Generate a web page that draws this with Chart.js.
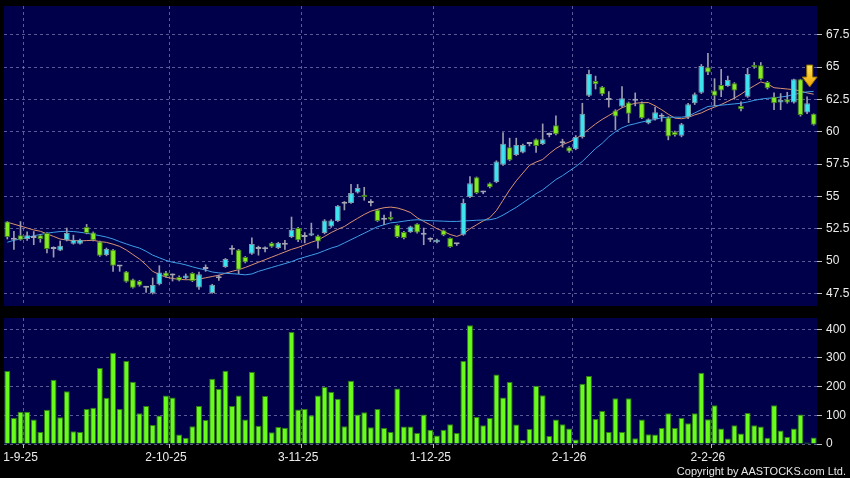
<!DOCTYPE html>
<html>
<head>
<meta charset="utf-8">
<script src="https://cdn.jsdelivr.net/npm/chart.js@4.4.1/dist/chart.umd.min.js"></script>
<style>
  body { margin: 0; background: #000; width: 850px; height: 478px; overflow: hidden; position: relative; }
  canvas { position: absolute; left: 0; }
  #copy { position: absolute; right: 4px; top: 465px; color: #e6e6e6; font: 11px "Liberation Sans", Arial, sans-serif; letter-spacing: 0; }
</style>
</head>
<body>
<canvas id="priceChart" width="850" height="310" style="top:0"></canvas>
<canvas id="volChart" width="850" height="168" style="top:310px"></canvas>
<div id="copy">Copyright by AASTOCKS.com Ltd.</div>
<script>
// daily candles, 28-8-25 .. 27-2-26
const opens = [53.05, 51.65, 52.0, 51.7, 51.78, 52.0, 52.16, 50.93, 50.82, 51.6, 51.34, 51.34, 52.63, 52.2, 51.5, 50.47, 50.87, 49.58, 49.18, 48.56,
  48.46, 47.94, 47.53, 48.2, 49.12, 48.87, 48.77, 48.66, 49.07, 47.95, 49.38, 47.53, 48.66, 49.54, 50.87, 50.87, 50.3, 50.57, 50.93, 50.9,
  51.4, 51.0, 51.26, 51.85, 52.55, 51.85, 51.98, 51.95, 52.16, 52.67, 53.09, 54.43, 54.48, 55.3, 55.13, 54.48, 53.96, 53.19, 53.4, 52.78,
  52.24, 52.24, 52.88, 52.03, 51.65, 51.45, 52.37, 51.78, 51.3, 52.03, 54.95, 56.48, 55.3, 56.02, 56.1, 57.44, 58.8, 58.2, 58.4, 59.04,
  59.42, 59.05, 59.75, 60.5, 59.11, 58.8, 58.65, 59.58, 62.77, 63.92, 63.48, 62.46, 61.63, 61.94, 62.25, 62.4, 62.2, 60.66, 60.97, 61.15,
  61.09, 60.0, 59.68, 61.12, 62.2, 63.02, 64.98, 63.18, 63.62, 63.54, 63.75, 61.99, 62.71, 65.16, 65.14, 63.85, 62.71, 62.25, 62.51, 62.25,
  64.06, 61.48, 61.38];
const highs = [53.05, 52.3, 53.05, 52.25, 52.28, 52.05, 52.2, 51.1, 51.55, 52.55, 52.0, 51.7, 52.83, 52.25, 51.55, 51.0, 50.9, 49.65, 49.2, 48.6,
  48.5, 48.04, 48.69, 49.64, 49.2, 49.0, 48.85, 49.0, 49.1, 49.15, 49.7, 48.2, 48.9, 50.2, 51.2, 50.9, 50.35, 51.8, 51.15, 51.1,
  51.45, 51.45, 51.6, 53.4, 52.6, 52.2, 52.93, 52.0, 53.2, 53.2, 54.3, 54.6, 55.92, 55.92, 55.7, 54.75, 54.0, 53.55, 53.8, 52.8,
  52.3, 52.7, 52.9, 52.55, 51.8, 51.7, 52.4, 51.8, 51.35, 54.79, 56.53, 56.5, 55.4, 56.05, 57.75, 59.93, 59.5, 59.5, 59.05, 59.1,
  59.45, 60.6, 59.9, 61.22, 59.42, 58.85, 59.7, 62.2, 64.77, 64.3, 63.5, 63.1, 61.7, 63.48, 62.3, 63.0, 62.3, 61.0, 61.9, 61.4,
  61.15, 60.05, 60.65, 62.2, 63.0, 65.2, 66.06, 64.1, 64.83, 64.3, 63.8, 62.3, 64.9, 65.35, 65.35, 63.9, 63.0, 62.95, 63.05, 64.06,
  64.06, 62.7, 61.38];
const lows = [51.7, 50.9, 51.6, 51.6, 51.26, 51.45, 50.62, 50.3, 50.8, 51.55, 51.3, 51.3, 52.1, 51.55, 50.35, 50.4, 49.2, 49.2, 48.35, 47.9,
  48.05, 47.57, 47.45, 48.15, 48.75, 48.45, 48.45, 48.6, 48.4, 47.8, 49.2, 47.5, 48.5, 49.5, 50.5, 49.02, 49.85, 50.5, 50.45, 50.7,
  51.05, 50.95, 50.9, 51.8, 51.5, 51.4, 51.95, 51.0, 52.1, 52.6, 53.05, 53.95, 54.45, 55.25, 54.7, 54.25, 53.05, 52.8, 53.15, 51.8,
  51.7, 52.2, 52.15, 51.26, 51.5, 51.4, 51.95, 51.05, 51.2, 51.98, 54.9, 55.2, 55.2, 55.65, 56.05, 57.4, 57.75, 58.15, 58.35, 58.9,
  58.4, 59.0, 59.6, 59.75, 58.8, 58.4, 58.6, 59.5, 62.7, 63.3, 62.8, 61.9, 60.14, 61.9, 60.7, 62.0, 61.0, 60.6, 60.9, 60.8,
  59.37, 59.65, 59.6, 61.0, 62.1, 62.95, 64.4, 62.0, 62.7, 63.5, 62.51, 61.6, 62.65, 64.9, 64.0, 63.3, 61.7, 61.7, 62.2, 62.2,
  61.2, 61.4, 60.5];
const closes = [51.86, 51.65, 51.65, 52.0, 51.78, 51.7, 50.93, 50.93, 51.18, 52.17, 51.65, 51.65, 52.16, 51.6, 50.41, 50.93, 49.64, 49.58, 48.4, 47.94,
  48.1, 47.94, 48.15, 49.12, 48.81, 48.87, 48.5, 48.87, 48.46, 48.98, 49.38, 48.17, 48.66, 50.16, 50.87, 49.33, 49.9, 51.32, 50.93, 50.9,
  51.1, 51.4, 51.26, 52.42, 51.6, 51.85, 52.15, 51.5, 53.13, 53.13, 54.27, 54.43, 55.25, 55.64, 54.95, 54.48, 53.09, 53.19, 53.2, 51.85,
  51.78, 52.67, 52.2, 52.03, 51.65, 51.65, 52.0, 51.08, 51.3, 54.48, 56.02, 55.25, 55.3, 55.7, 57.7, 59.06, 57.8, 58.98, 58.98, 59.04,
  58.9, 59.42, 59.75, 59.8, 59.11, 58.47, 59.58, 61.38, 64.47, 63.67, 62.9, 62.46, 61.17, 62.59, 61.38, 62.4, 61.04, 60.96, 61.5, 61.15,
  59.62, 59.75, 60.58, 62.13, 62.9, 65.08, 64.57, 62.77, 63.18, 64.0, 63.18, 61.74, 64.47, 64.98, 64.06, 63.36, 62.2, 62.46, 62.25, 64.06,
  61.3, 62.2, 60.53];
const ma10 = [53.0, 52.85, 52.7, 52.55, 52.4, 52.3, 52.1, 51.9, 51.7, 51.62, 51.58, 51.55, 51.58, 51.6, 51.5, 51.44, 51.3, 51.13, 50.85, 50.5,
  50.15, 49.7, 49.2, 48.95, 48.75, 48.65, 48.58, 48.55, 48.56, 48.6, 48.7, 48.8, 48.9, 49.05, 49.2, 49.33, 49.5, 49.7, 49.9, 50.1,
  50.3, 50.5, 50.7, 50.9, 51.05, 51.25, 51.45, 51.62, 51.9, 52.2, 52.45, 52.67, 53.0, 53.3, 53.6, 53.85, 54.0, 54.12, 54.17, 54.1,
  53.95, 53.75, 53.35, 53.06, 52.8, 52.5, 52.29, 52.05, 51.9, 52.1, 52.5, 52.8, 53.1, 53.35, 53.9, 54.7, 55.5, 56.2, 56.8, 57.4,
  57.65, 57.85, 58.3, 58.7, 59.0, 59.2, 59.45, 59.8, 60.2, 60.6, 60.95, 61.25, 61.55, 61.85, 62.05, 62.2, 62.25, 62.25, 62.0, 61.7,
  61.35, 61.05, 61.0, 61.1, 61.3, 61.45, 61.7, 61.9, 62.1, 62.35, 62.6, 62.9, 63.25, 63.55, 63.85, 63.7, 63.4, 63.35, 63.3, 63.25,
  63.15, 63.0, 62.9];
const ma20 = [51.45, 51.6, 51.7, 51.82, 51.95, 52.05, 52.15, 52.22, 52.28, 52.3, 52.28, 52.22, 52.15, 52.05, 51.96, 51.85, 51.7, 51.5, 51.32, 51.15,
  51.0, 50.75, 50.45, 50.25, 50.05, 49.9, 49.82, 49.7, 49.55, 49.42, 49.3, 49.15, 49.08, 49.05, 49.02, 48.98, 48.93, 49.0, 49.2, 49.35,
  49.5, 49.65, 49.8, 49.95, 50.15, 50.3, 50.45, 50.6, 50.8, 51.0, 51.15, 51.4, 51.65, 51.9, 52.15, 52.4, 52.65, 52.8, 52.95, 53.0,
  53.08, 53.15, 53.19, 53.15, 53.12, 53.1, 53.08, 53.06, 53.06, 53.1, 53.12, 53.15, 53.17, 53.19, 53.3, 53.55, 53.85, 54.15, 54.5, 54.85,
  55.2, 55.5, 55.9, 56.3, 56.6, 56.95, 57.3, 57.7, 58.2, 58.7, 59.1, 59.6, 60.0, 60.3, 60.5, 60.62, 60.75, 60.85, 60.95, 61.08,
  61.12, 61.12, 61.12, 61.2, 61.45, 61.7, 61.95, 62.0, 62.05, 62.1, 62.15, 62.2, 62.3, 62.42, 62.52, 62.58, 62.62, 62.68, 62.75, 62.88,
  62.98, 63.08, 63.12];
const volumes = [254, 91, 112, 112, 85, 42, 119, 224, 93, 184, 44, 42, 122, 126, 265, 161, 318, 122, 289, 217,
  107, 132, 66, 99, 169, 162, 33, 22, 62, 132, 84, 227, 192, 255, 132, 169, 85, 251, 64, 167,
  41, 59, 57, 390, 120, 122, 100, 169, 199, 181, 158, 62, 220, 103, 111, 58, 122, 56, 42, 193,
  61, 61, 38, 103, 50, 30, 50, 69, 38, 289, 414, 94, 65, 91, 242, 162, 216, 68, 14, 52,
  203, 170, 28, 85, 69, 54, 16, 210, 237, 87, 115, 42, 159, 42, 159, 20, 85, 34, 33, 56,
  107, 56, 91, 72, 107, 248, 86, 135, 54, 19, 65, 37, 108, 65, 61, 22, 135, 47, 24, 54,
  103, 5, 23];

const tickIndex = [2, 24, 44, 64, 85, 106];
const tickLabels = ['1-9-25', '2-10-25', '3-11-25', '1-12-25', '2-1-26', '2-2-26'];
const priceTicks = [47.5, 50, 52.5, 55, 57.5, 60, 62.5, 65, 67.5];
const volTicks = [0, 100, 200, 300, 400];

const labels = opens.map((_, i) => i);
const FONT = { family: '"Liberation Sans", Arial, sans-serif', size: 12 };
const GRID = 'rgba(150,150,205,0.6)';
const CYAN = '#3de3ef', GREEN = '#86ec22', DOJI = '#a4a4b4';

// dashed verticals sit on the right edge of the labelled day
const vGrid = ctx => tickIndex.includes(ctx.index - 1) ? GRID : 'transparent';
const vTick = ctx => tickIndex.includes(ctx.index - 1) ? '#bcbcbc' : 'transparent';

const areaBg = {
    id: 'areaBg',
    beforeDraw(chart) {
        const { ctx, chartArea: a } = chart;
        ctx.save();
        ctx.fillStyle = '#00004a';
        ctx.fillRect(a.left, a.top, a.width, a.height);
        ctx.restore();
    }
};

const arrow = {
    id: 'arrow',
    afterDatasetsDraw(chart) {
        const { ctx } = chart;
        const cx = chart.scales.x.getPixelForValue(opens.length - 1) - 4;
        const top = 65, mid = 77, tip = 87;
        const g = ctx.createLinearGradient(0, top, 0, tip);
        g.addColorStop(0, '#ffe95a');
        g.addColorStop(1, '#f0a100');
        ctx.save();
        ctx.beginPath();
        ctx.moveTo(cx - 3, top);
        ctx.lineTo(cx + 3, top);
        ctx.lineTo(cx + 3, mid);
        ctx.lineTo(cx + 7.5, mid);
        ctx.lineTo(cx, tip);
        ctx.lineTo(cx - 7.5, mid);
        ctx.lineTo(cx - 3, mid);
        ctx.closePath();
        ctx.fillStyle = g;
        ctx.fill();
        ctx.strokeStyle = '#8a6a00';
        ctx.lineWidth = 1;
        ctx.stroke();
        ctx.restore();
    }
};

function upDown(i, up, down, flat) {
    if (closes[i] > opens[i]) return up;
    if (closes[i] < opens[i]) return down;
    return flat;
}

const yRight = (min, max, ticks) => ({
    position: 'right',
    min: min,
    max: max,
    afterBuildTicks: s => { s.ticks = ticks.map(v => ({ value: v })); },
    afterFit: s => { s.width = 33; s.paddingTop = 0; s.paddingBottom = 0; },
    ticks: { color: '#ececec', font: FONT, padding: 4 },
    grid: { color: GRID, tickColor: '#bcbcbc', tickLength: 5 },
    border: { display: false, dash: [3, 3] }
});

new Chart(document.getElementById('priceChart'), {
    type: 'bar',
    data: {
        labels: labels,
        datasets: [
            {
                type: 'line', data: ma10, borderColor: '#dc9270', borderWidth: 1,
                pointRadius: 0, order: 3
            },
            {
                type: 'line', data: ma20, borderColor: '#3d9fe8', borderWidth: 1,
                pointRadius: 0, order: 2
            },
            {
                data: lows.map((l, i) => [l, highs[i]]),
                backgroundColor: '#9c9cae', barThickness: 1, grouped: false, order: 1
            },
            {
                data: opens.map((o, i) => [Math.min(o, closes[i]), Math.max(o, closes[i])]),
                backgroundColor: ctx => upDown(ctx.dataIndex, CYAN, GREEN, DOJI),
                borderColor: ctx => upDown(ctx.dataIndex, '#7f98a8', '#3f7f1c', DOJI),
                borderWidth: 1, borderSkipped: false, minBarLength: 2,
                barPercentage: 0.88, categoryPercentage: 1, grouped: false, order: 0
            }
        ]
    },
    options: {
        responsive: false,
        animation: false,
        layout: { padding: { left: 4, top: 6, bottom: 4, right: 0 } },
        plugins: { legend: { display: false }, tooltip: { enabled: false } },
        scales: {
            x: {
                ticks: { display: false, autoSkip: false },
                grid: { color: vGrid, drawTicks: false },
                border: { display: false, dash: [3, 3] },
                afterFit: s => { s.height = 0; s.paddingLeft = 0; s.paddingRight = 0; }
            },
            y: yRight(46.52, 69.72, priceTicks)
        }
    },
    plugins: [areaBg, arrow]
});

new Chart(document.getElementById('volChart'), {
    type: 'bar',
    data: {
        labels: labels,
        datasets: [{
            data: volumes,
            backgroundColor: '#68fb1c',
            borderColor: '#2f7d12',
            borderWidth: 1,
            borderSkipped: 'bottom',
            barPercentage: 0.9,
            categoryPercentage: 1
        }]
    },
    options: {
        responsive: false,
        animation: false,
        layout: { padding: { left: 4, top: 8, bottom: 0, right: 0 } },
        plugins: { legend: { display: false }, tooltip: { enabled: false } },
        scales: {
            x: {
                ticks: {
                    autoSkip: false, maxRotation: 0, color: '#ececec', font: FONT, padding: 2,
                    callback: (v, i) => {
                        const k = tickIndex.indexOf(i);
                        return k >= 0 ? tickLabels[k] : '';
                    }
                },
                grid: { color: vGrid, tickColor: vTick, tickLength: 4 },
                border: { display: false, dash: [3, 3] },
                afterFit: s => { s.height = 34; s.paddingLeft = 0; s.paddingRight = 0; }
            },
            y: yRight(0, 439, volTicks)
        }
    },
    plugins: [areaBg]
});
</script>
</body>
</html>
